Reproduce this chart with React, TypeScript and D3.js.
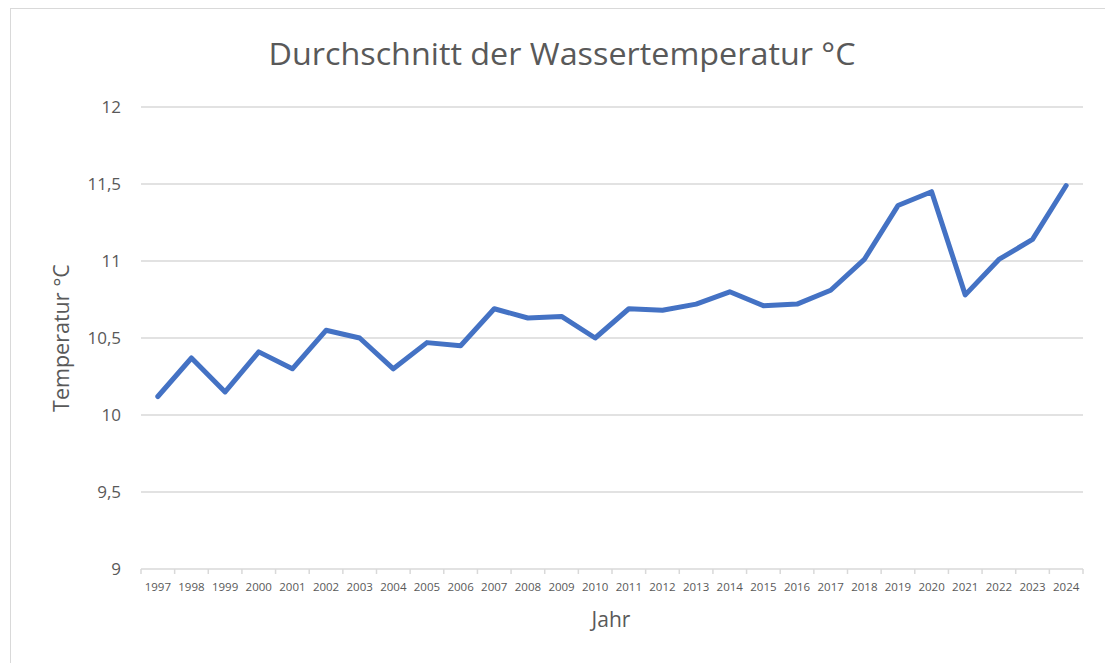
import React from "react";
import * as d3 from "d3";

const years = ["1997","1998","1999","2000","2001","2002","2003","2004","2005","2006","2007","2008","2009","2010","2011","2012","2013","2014","2015","2016","2017","2018","2019","2020","2021","2022","2023","2024"];
const temps = [10.12,10.37,10.15,10.41,10.30,10.55,10.50,10.30,10.47,10.45,10.69,10.63,10.64,10.50,10.69,10.68,10.72,10.80,10.71,10.72,10.81,11.01,11.36,11.45,10.78,11.01,11.14,11.49];
const yTicks = [9, 9.5, 10, 10.5, 11, 11.5, 12];

const W = 1105, H = 663;
const left = 141, right = 1083, top = 107, bottom = 569;
const font = "'Open Sans', sans-serif";

export default function App() {
  const x = d3.scaleBand<string>().domain(years).range([left, right]).padding(0);
  const y = d3.scaleLinear().domain([9, 12]).range([bottom, top]);
  const line = d3.line<number>().x((_, i) => (x(years[i]) as number) + x.bandwidth() / 2).y(d => y(d));
  const fmt = (v: number) => String(v).replace(".", ",");
  const boundaries = years.map(yy => x(yy) as number).concat([right]);
  return (
    <svg width={W} height={H} style={{ position: "absolute", left: 0, top: 0, background: "#fff" }}>
      <rect x={10.5} y={8.5} width={W + 10} height={H + 10} fill="#fff" stroke="#d9d9d9" strokeWidth={1} />
      <text x={562} y={65} textAnchor="middle" fontFamily={font} fontSize={31} fontWeight={400} fill="#595959" textLength={587} lengthAdjust="spacingAndGlyphs">Durchschnitt der Wassertemperatur °C</text>
      {yTicks.map(t => (
        <g key={t}>
          {t !== 9 && <line x1={left} x2={right} y1={y(t)} y2={y(t)} stroke="#d9d9d9" strokeWidth={1.5} />}
          <text x={121} y={y(t) + 6} textAnchor="end" fontFamily={font} fontSize={17} fill="#595959">{fmt(t)}</text>
        </g>
      ))}
      <line x1={left} x2={right} y1={bottom} y2={bottom} stroke="#d9d9d9" strokeWidth={1.5} />
      {boundaries.map((b, i) => (
        <line key={i} x1={b} x2={b} y1={bottom} y2={bottom + 5} stroke="#d9d9d9" strokeWidth={1.5} />
      ))}
      {years.map(yy => (
        <text key={yy} x={(x(yy) as number) + x.bandwidth() / 2} y={591} textAnchor="middle" fontFamily={font} fontSize={11.5} fill="#595959">{yy}</text>
      ))}
      <path d={line(temps) || ""} fill="none" stroke="#4472C4" strokeWidth={5} strokeLinejoin="round" strokeLinecap="round" />
      <text transform={`translate(69,338) rotate(-90)`} textAnchor="middle" fontFamily={font} fontSize={21.5} fill="#595959">Temperatur °C</text>
      <text x={611} y={627} textAnchor="middle" fontFamily={font} fontSize={21} fill="#595959">Jahr</text>
    </svg>
  );
}
